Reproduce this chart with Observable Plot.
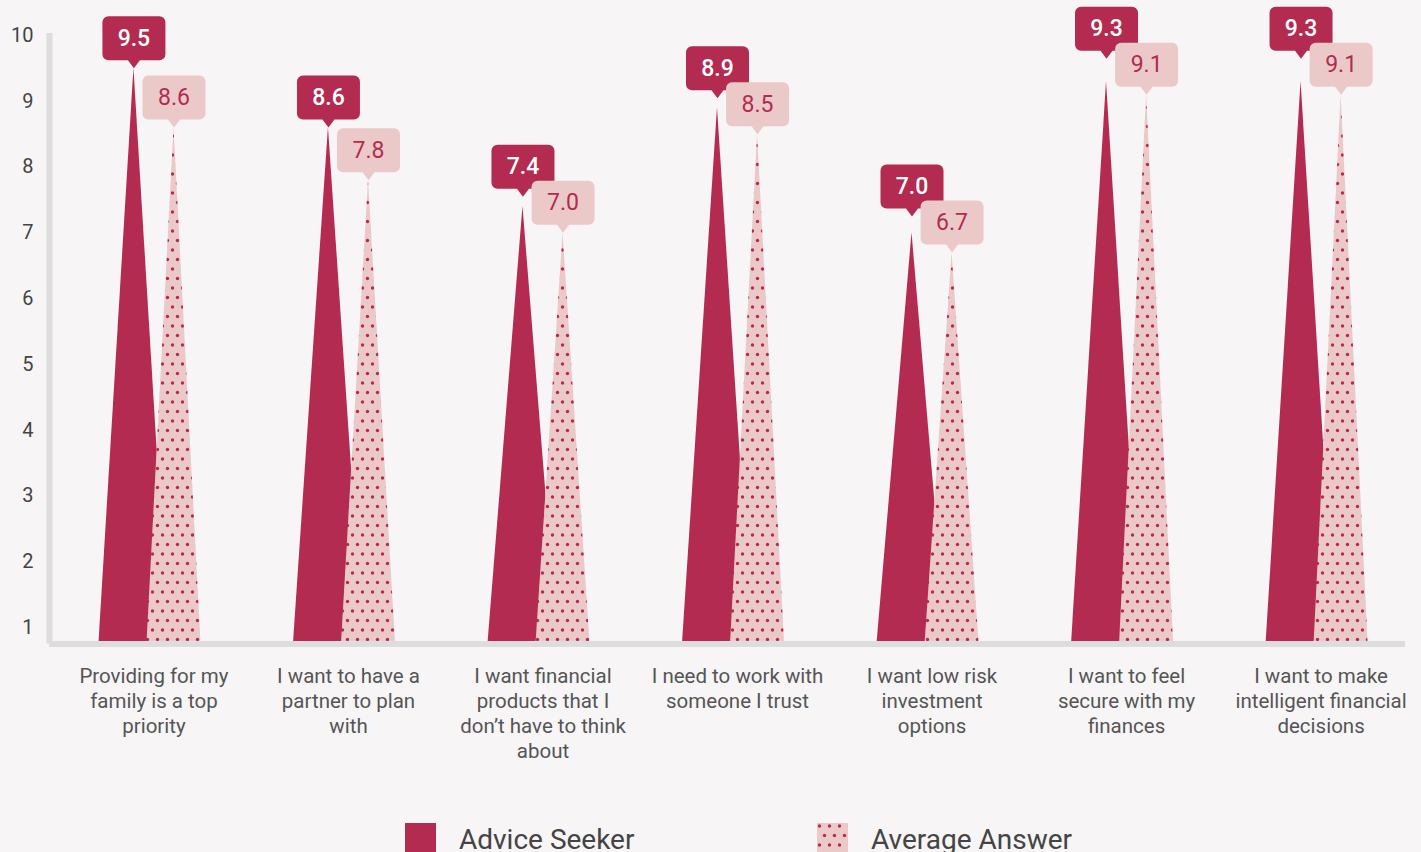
<!DOCTYPE html>
<html>
<head>
<meta charset="utf-8">
<script src="https://cdn.jsdelivr.net/npm/d3@7"></script>
<script src="https://cdn.jsdelivr.net/npm/@observablehq/plot@0.6"></script>
<style>
  html, body { margin: 0; padding: 0; background: #f7f5f6; font-family: Roboto, "Noto Sans", sans-serif; }
  #chart svg { display: block; background: #f7f5f6; }
  #legend { position: relative; height: 52px; margin-top: 23px; font-family: Roboto, sans-serif; font-size: 28px; color: #444; }
  .item { position: absolute; top: 0; display: flex; align-items: flex-start; }
  .sw { width: 31px; height: 31px; margin-right: 23px; display: block; }
  .item span { line-height: 31px; margin-top: 1px; }
</style>
</head>
<body>
<svg width="0" height="0" style="position:absolute">
  <defs>
    <pattern id="dots" patternUnits="userSpaceOnUse" width="10" height="19">
      <rect width="10" height="19" fill="#ebc9c9"></rect>
      <circle cx="2.5" cy="3" r="1.7" fill="#b8294f"></circle>
      <circle cx="7.5" cy="12.5" r="1.7" fill="#b8294f"></circle>
    </pattern>
  </defs>
</svg>
<div id="chart"></div>
<div id="legend">
  <div class="item" style="left:405px"><svg class="sw"><rect width="31" height="31" fill="#b32b50"></rect></svg><span>Advice Seeker</span></div>
  <div class="item" style="left:817px"><svg class="sw"><rect width="31" height="31" fill="url(#dots)"></rect></svg><span>Average Answer</span></div>
</div>
<script>
const categories = [
  "Providing for my\nfamily is a top\npriority",
  "I want to have a\npartner to plan\nwith",
  "I want financial\nproducts that I\ndon’t have to think\nabout",
  "I need to work with\nsomeone I trust",
  "I want low risk\ninvestment\noptions",
  "I want to feel\nsecure with my\nfinances",
  "I want to make\nintelligent financial\ndecisions"
];
const adviceSeeker = [9.5, 8.6, 7.4, 8.9, 7.0, 9.3, 9.3];
const averageAnswer = [8.6, 7.8, 7.0, 8.5, 6.7, 9.1, 9.1];
const yTicks = [1, 2, 3, 4, 5, 6, 7, 8, 9, 10];

const dark = "#b32b50";
const light = "#ebc9c9";
const xMin = -0.537, xMax = 6.434;
const yMin = 0.749, yMax = 10.03;
const height = 800, marginTop = 33, marginBottom = 156.5;
const pxPerUnit = (height - marginTop - marginBottom) / (yMax - yMin);

const series = [
  {key: "Advice Seeker", values: adviceSeeker, offset: -0.103, half: 0.18},
  {key: "Average Answer", values: averageAnswer, offset: 0.103, half: 0.139}
];

function triangles(s) {
  const pts = [];
  s.values.forEach((v, i) => {
    const c = i + s.offset;
    pts.push({z: i, x: c - s.half, y: yMin});
    pts.push({z: i, x: c, y: v});
    pts.push({z: i, x: c + s.half, y: yMin});
  });
  return pts;
}
// average callouts sit on their spike; seeker callouts are lifted to avoid hiding behind them
const avgTips = averageAnswer.map((v, i) => ({x: i + series[1].offset, y: v, label: v.toFixed(1)}));
const seekTips = adviceSeeker.map((v, i) => ({
  x: i + series[0].offset,
  y: Math.max(v, averageAnswer[i] + 36 / pxPerUnit),
  label: v.toFixed(1)
}));

const callout = {
  draw(ctx) {
    const w = 31.5, h = 44, p = 8, r = 6, t = 6;
    const bot = -p, top = -p - h;
    ctx.moveTo(0, 0);
    ctx.lineTo(-t, bot);
    ctx.lineTo(-w + r, bot);
    ctx.arcTo(-w, bot, -w, bot - r, r);
    ctx.lineTo(-w, top + r);
    ctx.arcTo(-w, top, -w + r, top, r);
    ctx.lineTo(w - r, top);
    ctx.arcTo(w, top, w, top + r, r);
    ctx.lineTo(w, bot - r);
    ctx.arcTo(w, bot, w - r, bot, r);
    ctx.lineTo(t, bot);
    ctx.closePath();
  }
};

const chart = Plot.plot({
  width: 1421,
  height,
  marginLeft: 49,
  marginRight: 16,
  marginTop,
  marginBottom,
  style: {background: "#f7f5f6", fontFamily: "Roboto, sans-serif"},
  x: {domain: [xMin, xMax]},
  y: {domain: [yMin, yMax]},
  marks: [
    Plot.areaY(triangles(series[0]), {x: "x", y1: yMin, y2: "y", z: "z", fill: dark, curve: "linear"}),
    Plot.areaY(triangles(series[1]), {x: "x", y1: yMin, y2: "y", z: "z", fill: "url(#dots)", curve: "linear"}),
    Plot.ruleX([xMin], {stroke: "#dddddd", strokeWidth: 6}),
    Plot.ruleY([yMin], {stroke: "#dddddd", strokeWidth: 6}),
    Plot.dot(seekTips, {x: "x", y: "y", symbol: callout, fill: dark, stroke: null, r: 1}),
    Plot.text(seekTips, {x: "x", y: "y", text: "label", dy: -30, fill: "white", fontSize: 23, fontWeight: 500}),
    Plot.dot(avgTips, {x: "x", y: "y", symbol: callout, fill: light, stroke: null, r: 1}),
    Plot.text(avgTips, {x: "x", y: "y", text: "label", dy: -30, fill: dark, fontSize: 23, fontWeight: 400}),
    Plot.axisY({ticks: yTicks, tickSize: 0, tickPadding: 16, fontSize: 20, fill: "#444", label: null, tickFormat: d => String(d)}),
    Plot.axisX({ticks: d3.range(categories.length), tickSize: 0, tickPadding: 21, fontSize: 20.5, fill: "#555", label: null, lineHeight: 1.22, tickFormat: i => categories[i]})
  ]
});
document.getElementById("chart").appendChild(chart);
</script>
</body>
</html>
